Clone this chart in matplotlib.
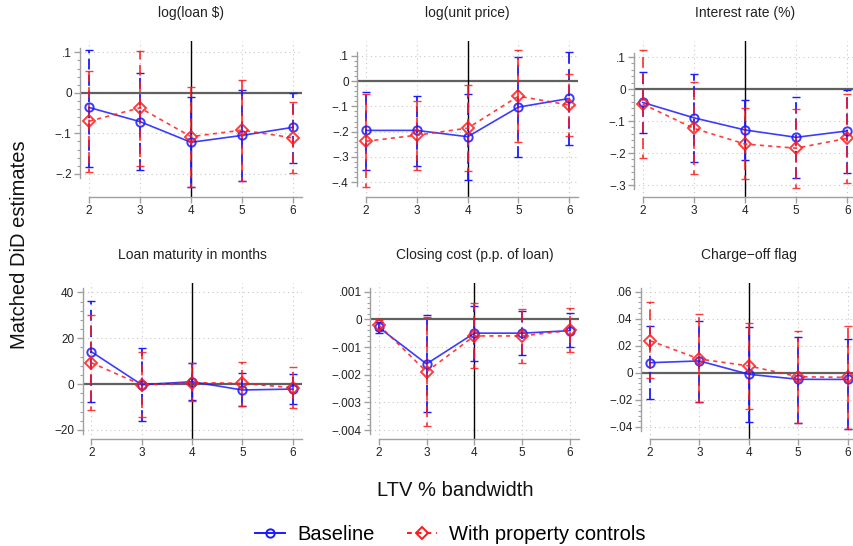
import numpy as np
import matplotlib
matplotlib.use("Agg")
import matplotlib.pyplot as plt
from matplotlib.lines import Line2D
from matplotlib.ticker import FixedLocator

plt.rcParams['font.family'] = ['Liberation Sans', 'DejaVu Sans']

bandwidth = [2, 3, 4, 5, 6]

titles = ["log(loan $)", "log(unit price)", "Interest rate (%)",
          "Loan maturity in months", "Closing cost (p.p. of loan)", "Charge\u2212off flag"]

# baseline: estimate, upper CI, lower CI
base_est = [
    [-0.036, -0.071, -0.122, -0.105, -0.085],
    [-0.195, -0.195, -0.220, -0.103, -0.069],
    [-0.042, -0.090, -0.128, -0.151, -0.131],
    [14.1, -0.3, 1.0, -2.6, -2.2],
    [-0.00029, -0.00161, -0.0005, -0.0005, -0.00041],
    [0.0074, 0.0087, -0.0012, -0.0049, -0.005],
]
base_hi = [
    [0.106, 0.050, -0.010, 0.008, 0.0],
    [-0.045, -0.060, -0.052, 0.095, 0.116],
    [0.054, 0.047, -0.034, -0.026, -0.003],
    [36.2, 15.6, 9.3, 4.9, 4.4],
    [-0.0001, 0.00016, 0.00049, 0.00031, 0.00022],
    [0.0346, 0.0385, 0.0336, 0.0267, 0.0247],
]
base_lo = [
    [-0.184, -0.190, -0.232, -0.217, -0.172],
    [-0.350, -0.335, -0.390, -0.300, -0.253],
    [-0.137, -0.227, -0.222, -0.277, -0.262],
    [-7.7, -16.0, -7.0, -9.5, -8.7],
    [-0.0005, -0.00336, -0.0015, -0.00129, -0.00101],
    [-0.0197, -0.022, -0.0363, -0.037, -0.0417],
]

# with property controls
ctrl_est = [
    [-0.070, -0.037, -0.108, -0.092, -0.111],
    [-0.238, -0.214, -0.186, -0.060, -0.095],
    [-0.047, -0.123, -0.172, -0.185, -0.154],
    [9.3, -0.4, 0.6, 0.3, -1.6],
    [-0.0002, -0.00189, -0.0006, -0.0006, -0.0004],
    [0.0237, 0.0101, 0.005, -0.003, -0.0035],
]
ctrl_hi = [
    [0.055, 0.103, 0.014, 0.031, -0.022],
    [-0.052, -0.078, -0.014, 0.121, 0.027],
    [0.122, 0.023, -0.060, -0.063, -0.016],
    [30.1, 14.1, 9.0, 9.7, 7.6],
    [-0.00002, 0.00007, 0.00058, 0.00037, 0.0004],
    [0.0522, 0.0432, 0.0366, 0.0309, 0.0348],
]
ctrl_lo = [
    [-0.195, -0.181, -0.232, -0.217, -0.199],
    [-0.420, -0.352, -0.357, -0.242, -0.217],
    [-0.217, -0.267, -0.282, -0.310, -0.295],
    [-11.4, -14.5, -7.5, -9.6, -10.3],
    [-0.00039, -0.00385, -0.00177, -0.00157, -0.00117],
    [-0.0041, -0.022, -0.0269, -0.0375, -0.0417],
]

yticks = [
    [-0.2, -0.1, 0, 0.1],
    [-0.4, -0.3, -0.2, -0.1, 0, 0.1],
    [-0.3, -0.2, -0.1, 0, 0.1],
    [-20, 0, 20, 40],
    [-0.004, -0.003, -0.002, -0.001, 0, 0.001],
    [-0.04, -0.02, 0, 0.02, 0.04, 0.06],
]
ylims = [(-0.257, 0.128), (-0.458, 0.158), (-0.3375, 0.15),
         (-24.0, 44.1), (-0.00432, 0.00131), (-0.0491, 0.0664)]

# layout in pixels: y-axis x, x of tick 2, x of tick 6, top, bottom
W, H = 854, 546
layout = [
    (80, 89, 293, 41, 197),
    (357, 366, 569.3, 41, 197),
    (634, 642.7, 847.3, 41, 197),
    (82.7, 91.3, 292.7, 283, 439),
    (370, 378.7, 570, 283, 439),
    (641, 650, 847.7, 283, 439),
]

BLUE = '#1a1aff'
RED = '#ff1a1a'
GRID = '#c8c8c8'
AX = '#a0a0a0'


def fmt(v):
    s = f"{round(v, 6):g}"
    if s.startswith("-0."):
        s = "\u2212" + s[2:]
    elif s.startswith("0."):
        s = s[1:]
    elif s.startswith("-"):
        s = "\u2212" + s[1:]
    return s


fig = plt.figure(figsize=(W / 100, H / 100), dpi=100)

for i in range(6):
    yl, x2, x6, top, bot = layout[i]
    pxu = (x6 - x2) / 4
    right = x6 + 9
    ax = fig.add_axes([yl / W, 1 - bot / H, (right - yl) / W, (bot - top) / H])
    ax.set_xlim(2 - (x2 - yl) / pxu, 6 + 9 / pxu)
    ax.set_ylim(*ylims[i])
    ax.patch.set_visible(False)

    tk = yticks[i]
    step = tk[1] - tk[0]
    # grid
    for t in tk:
        ax.axhline(t, color=GRID, lw=0.8, ls=(0, (1, 3)), zorder=0)
    for b in bandwidth:
        ax.axvline(b, color=GRID, lw=0.8, ls=(0, (1, 3)), zorder=0)
    ax.axhline(0, color='#606060', lw=1.6, zorder=1)
    ax.axvline(4, color='black', lw=1.0, zorder=1)

    be = np.array(base_est[i]); ce = np.array(ctrl_est[i])
    eb = ax.errorbar(bandwidth, be, yerr=[be - np.array(base_lo[i]), np.array(base_hi[i]) - be],
                     fmt='none', ecolor=BLUE, elinewidth=1.3, capsize=3, capthick=1.0, zorder=2)
    eb[2][0].set_linestyle((0, (6, 3)))
    er = ax.errorbar(bandwidth, ce, yerr=[ce - np.array(ctrl_lo[i]), np.array(ctrl_hi[i]) - ce],
                     fmt='none', ecolor=RED, elinewidth=1.3, capsize=3, capthick=1.0, zorder=3,
                     alpha=0.85)
    er[2][0].set_linestyle((4, (6, 3)))
    ax.plot(bandwidth, be, color=BLUE, lw=1.2, marker='o', ms=6, mfc='none', mew=1.4,
            alpha=0.85, zorder=4)
    ax.plot(bandwidth, ce, color=RED, lw=1.2, ls=(0, (2.5, 2.5)), marker='D', ms=6, mfc='none',
            mew=1.4, alpha=0.85, zorder=5)

    for s in ['top', 'right']:
        ax.spines[s].set_visible(False)
    pad = (ylims[i][1] - ylims[i][0]) * 4 / (bot - top)
    ax.spines['left'].set_bounds(tk[0] - pad, tk[-1] + pad)
    ax.spines['bottom'].set_bounds(2, 6 + 9 / pxu)
    for s in ['left', 'bottom']:
        ax.spines[s].set_color(AX)
        ax.spines[s].set_linewidth(1.0)

    ax.set_yticks(tk)
    ax.set_yticklabels([fmt(t) for t in tk])
    minors = [tk[0] + k * step / 5 for k in range(5 * (len(tk) - 1) + 1)]
    ax.yaxis.set_minor_locator(FixedLocator(minors))
    ax.set_xticks(bandwidth)
    ax.set_xticklabels([str(b) for b in bandwidth])
    ax.tick_params(axis='both', which='major', length=4, width=1.0, color=AX,
                   labelsize=8.5, labelcolor='#222222', pad=2)
    ax.tick_params(axis='y', which='minor', length=2, width=0.8, color=AX)

    fig.text((yl + right) / 2 / W, 1 - (top - 28) / H, titles[i], ha='center', va='center',
             fontsize=10, color='#222222')

fig.text(20 / W, 1 - 245 / H, "Matched DiD estimates", rotation=90, ha='center', va='center',
         fontsize=14.5, color='#111111')
fig.text(455 / W, 1 - 490 / H, "LTV % bandwidth", ha='center', va='center',
         fontsize=14.5, color='#111111')

handles = [
    Line2D([], [], color=BLUE, lw=1.4, marker='o', ms=6, mfc='none', mew=1.4),
    Line2D([], [], color=RED, lw=1.4, ls=(0, (2.5, 2.5)), marker='D', ms=6, mfc='none', mew=1.4),
]
fig.legend(handles, ["Baseline", "With property controls"], loc='center',
           bbox_to_anchor=(450 / W, 1 - 535 / H), ncol=2, frameon=False, fontsize=14.5,
           handlelength=1.5, columnspacing=1.6, handletextpad=0.6)

fig.savefig("out.png", dpi=100)
